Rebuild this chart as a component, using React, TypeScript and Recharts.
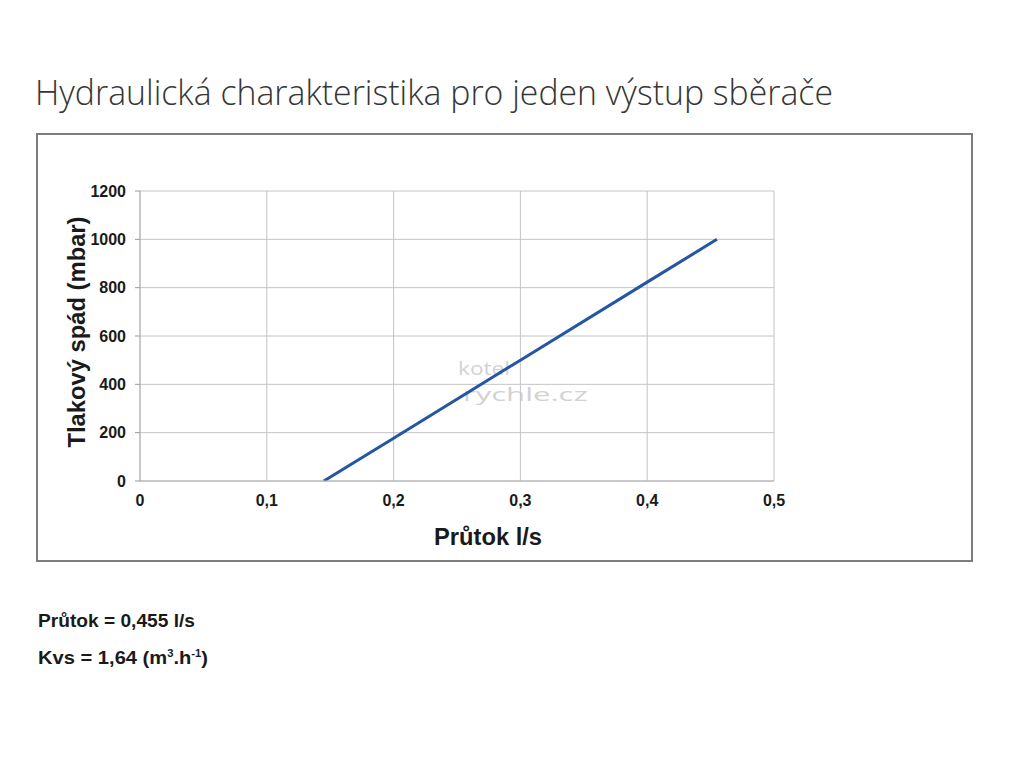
import React from 'react';
import { LineChart, Line, XAxis, YAxis, CartesianGrid } from 'recharts';

const flowLps = [0.145, 0.2, 0.3, 0.4, 0.455];
const pressureMbar = [0, 177, 500, 823, 1000];
const xTicks = [0, 0.1, 0.2, 0.3, 0.4, 0.5];
const yTicks = [0, 200, 400, 600, 800, 1000, 1200];

const titleText = 'Hydraulická charakteristika pro jeden výstup sběrače';
const xTitle = 'Průtok l/s';
const yTitle = 'Tlakový spád (mbar)';
const note1 = 'Průtok = 0,455 l/s';

const data = flowLps.map((q, i) => ({ q, p: pressureMbar[i] }));

const FONT = '"Liberation Sans", Arial, sans-serif';

export default function App() {
  return (
    <div style={{ position: 'absolute', left: 0, top: 0, width: 1024, height: 768, background: '#fff' }}>
      <svg width={1024} height={768} style={{ position: 'absolute', left: 0, top: 0 }}>
        <text x={35} y={105} fontFamily='"Open Sans", sans-serif' fontWeight={300} fontSize={34} fill="#363636"
          textLength={798} lengthAdjust="spacingAndGlyphs">{titleText}</text>
        <rect x={37} y={134} width={935} height={427} fill="none" stroke="#7d7d7d" strokeWidth={2} />
        <text x={458} y={375} fontFamily='"Open Sans", sans-serif' fontSize={19} fill="#d2d2d2"
          textLength={52} lengthAdjust="spacingAndGlyphs">kotel</text>
        <text x={463} y={401} fontFamily='"Open Sans", sans-serif' fontSize={19} fill="#d2d2d2"
          textLength={125} lengthAdjust="spacingAndGlyphs">rychle.cz</text>
      </svg>
      <div style={{ position: 'absolute', left: 0, top: 0 }}>
        <LineChart width={1024} height={768} data={data} margin={{ top: 191, right: 250, bottom: 257, left: 80 }}>
          <CartesianGrid stroke="#c4c4c4" strokeWidth={1} />
          <XAxis type="number" dataKey="q" domain={[0, 0.5]} ticks={xTicks} allowDataOverflow
            tickFormatter={(v: number) => String(v).replace('.', ',')}
            tickLine={false} axisLine={{ stroke: '#b0b0b0' }} height={30} tickMargin={8}
            tick={{ fill: '#1a1a1a', fontSize: 16, fontWeight: 'bold', fontFamily: FONT }} />
          <YAxis type="number" domain={[0, 1200]} ticks={yTicks} allowDataOverflow width={60}
            tickSize={5} tickLine={{ stroke: '#999' }} axisLine={{ stroke: '#b0b0b0' }} tickMargin={9}
            tick={{ fill: '#1a1a1a', fontSize: 16, fontWeight: 'bold', fontFamily: FONT }} />
          <Line type="linear" dataKey="p" stroke="#2456a3" strokeWidth={3} dot={false} isAnimationActive={false} />
        </LineChart>
      </div>
      <svg width={1024} height={768} style={{ position: 'absolute', left: 0, top: 0, pointerEvents: 'none' }}>
        <text x={488} y={545} textAnchor="middle" fontFamily={FONT} fontWeight="bold" fontSize={23} fill="#1a1a1a"
          textLength={108} lengthAdjust="spacingAndGlyphs">{xTitle}</text>
        <text transform="translate(85,332) rotate(-90)" textAnchor="middle" fontFamily={FONT} fontWeight="bold" fontSize={23}
          fill="#1a1a1a" textLength={231} lengthAdjust="spacingAndGlyphs">{yTitle}</text>
        <text x={38} y={627} fontFamily={FONT} fontWeight="bold" fontSize={18} fill="#1a1a1a"
          textLength={157} lengthAdjust="spacingAndGlyphs">{note1}</text>
        <text x={38} y={664} fontFamily={FONT} fontWeight="bold" fontSize={18} fill="#1a1a1a"
          textLength={170} lengthAdjust="spacingAndGlyphs">
          Kvs = 1,64 (m<tspan dy={-7} fontSize={10}>3</tspan><tspan dy={7}>.h</tspan><tspan dy={-7} fontSize={10}>-1</tspan><tspan dy={7}>)</tspan>
        </text>
      </svg>
    </div>
  );
}
